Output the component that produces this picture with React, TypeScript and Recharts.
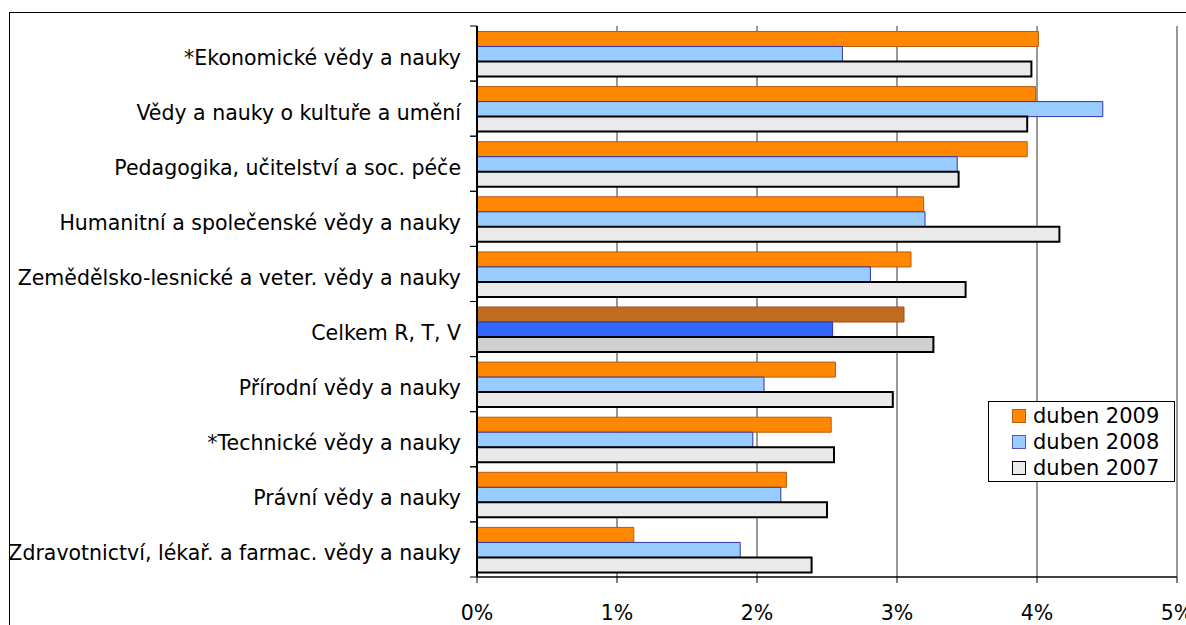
import React from "react";
import { BarChart, Bar, XAxis, YAxis, CartesianGrid, Cell, Legend } from "recharts";

const categories = [
  "*Ekonomické vědy a nauky",
  "Vědy a nauky o kultuře a umění",
  "Pedagogika, učitelství a soc. péče",
  "Humanitní a společenské vědy a nauky",
  "Zemědělsko-lesnické a veter. vědy a nauky",
  "Celkem R, T, V",
  "Přírodní vědy a nauky",
  "*Technické vědy a nauky",
  "Právní vědy a nauky",
  "Zdravotnictví, lékař. a farmac. vědy a nauky",
];
const v2009 = [4.01, 3.99, 3.93, 3.19, 3.10, 3.05, 2.56, 2.53, 2.21, 1.12];
const v2008 = [2.61, 4.47, 3.43, 3.20, 2.81, 2.54, 2.05, 1.97, 2.17, 1.88];
const v2007 = [3.96, 3.93, 3.44, 4.16, 3.49, 3.26, 2.97, 2.55, 2.50, 2.39];
const xTicks = [0, 1, 2, 3, 4, 5];
const seriesNames = ["duben 2009", "duben 2008", "duben 2007"];
const totalCategory = "Celkem R, T, V";

const data = categories.map((name, i) => ({
  name,
  a: v2009[i],
  b: v2008[i],
  c: v2007[i],
}));

const W = 1186;
const H = 625;
const TOP = 26;
const BOTTOM_AXIS = 48;
const PLOT_H = H - TOP - BOTTOM_AXIS;
const BAND = PLOT_H / categories.length;
const FONT = "DejaVu Sans";

const YTick = (props: any) => {
  const { x, y, payload } = props;
  const ax = x + 16;
  return (
    <g>
      <text x={x} y={y} dy={11} textAnchor="end" fontFamily={FONT} fontSize={20.5} fill="#000">
        {payload.value}
      </text>
      <line x1={ax - 7} x2={ax} y1={y - BAND / 2} y2={y - BAND / 2} stroke="#000" strokeWidth={1} />
      <line x1={ax - 7} x2={ax} y1={y + BAND / 2} y2={y + BAND / 2} stroke="#000" strokeWidth={1} />
    </g>
  );
};

const XTick = (props: any) => {
  const { x, payload } = props;
  const axisY = H - BOTTOM_AXIS;
  return (
    <text x={x} y={axisY + 43} textAnchor="middle" fontFamily={FONT} fontSize={20.5} fill="#000">
      {`${payload.value}%`}
    </text>
  );
};

const legendItems = [
  { name: seriesNames[0], fill: "#ff8800", stroke: "#b85a10" },
  { name: seriesNames[1], fill: "#99ccff", stroke: "#5555bb" },
  { name: seriesNames[2], fill: "#eaeaea", stroke: "#000" },
];

const LegendBox = () => (
  <div
    style={{
      width: 187,
      height: 81,
      border: "1px solid #000",
      background: "#fff",
      fontFamily: FONT,
      fontSize: 21,
      boxSizing: "border-box",
      paddingTop: 1,
    }}
  >
    {legendItems.map((it) => (
      <div key={it.name} style={{ display: "flex", alignItems: "center", height: 26, paddingLeft: 23 }}>
        <span
          style={{
            display: "inline-block",
            width: 12,
            height: 12,
            background: it.fill,
            border: `1.5px solid ${it.stroke}`,
            marginRight: 7,
            flexShrink: 0,
          }}
        />
        <span style={{ lineHeight: "26px", whiteSpace: "nowrap" }}>{it.name}</span>
      </div>
    ))}
  </div>
);

export default function App() {
  return (
    <div style={{ position: "absolute", left: 0, top: 0, width: W, height: H, overflow: "hidden", background: "#fff" }}>
      <div
        style={{
          position: "absolute",
          left: 9,
          top: 12,
          width: 1300,
          height: 800,
          border: "1.5px solid #000",
          boxSizing: "border-box",
        }}
      />
      <div style={{ position: "absolute", left: 0, top: 0 }}>
        <BarChart
          width={W}
          height={H}
          data={data}
          layout="vertical"
          margin={{ top: TOP, right: 9, bottom: 0, left: 0 }}
          barCategoryGap="10%"
          barGap={0}
        >
          <CartesianGrid horizontal={false} stroke="#999" strokeWidth={2} />
          <XAxis
            xAxisId={0}
            type="number"
            domain={[0, 5]}
            ticks={xTicks}
            height={BOTTOM_AXIS}
            axisLine={{ stroke: "#000", strokeWidth: 1.5 }}
            tickLine={{ stroke: "#000" }}
            tickSize={6}
            tick={<XTick />}
            interval={0}
          />
          <XAxis
            xAxisId="top"
            orientation="top"
            type="number"
            domain={[0, 5]}
            height={0}
            tick={false}
            tickLine={false}
            axisLine={{ stroke: "#999", strokeWidth: 2 }}
          />
          <YAxis
            type="category"
            dataKey="name"
            width={477}
            tickSize={6}
            tickMargin={10}
            tickLine={false}
            axisLine={{ stroke: "#000", strokeWidth: 2 }}
            tick={<YTick />}
            interval={0}
          />
          <Legend
            layout="horizontal"
            verticalAlign="middle"
            align="center"
            content={<LegendBox />}
            wrapperStyle={{ position: "absolute", left: 988, top: 401, width: 187, height: 81 }}
          />
          <Bar dataKey="a" name={seriesNames[0]} fill="#ff8800" stroke="#b85a10" strokeWidth={1} isAnimationActive={false}>
            {data.map((d) => (
              <Cell key={d.name} fill={d.name === totalCategory ? "#c06c20" : "#ff8800"} stroke={d.name === totalCategory ? "#a05010" : "#b85a10"} />
            ))}
          </Bar>
          <Bar dataKey="b" name={seriesNames[1]} fill="#99ccff" stroke="#4444aa" strokeWidth={1} isAnimationActive={false}>
            {data.map((d) => (
              <Cell key={d.name} fill={d.name === totalCategory ? "#3366ff" : "#99ccff"} stroke="#3333aa" />
            ))}
          </Bar>
          <Bar dataKey="c" name={seriesNames[2]} fill="#eaeaea" stroke="#000" strokeWidth={2} isAnimationActive={false}>
            {data.map((d) => (
              <Cell key={d.name} fill={d.name === totalCategory ? "#d0d0d0" : "#eaeaea"} stroke="#000" />
            ))}
          </Bar>
        </BarChart>
      </div>
    </div>
  );
}
